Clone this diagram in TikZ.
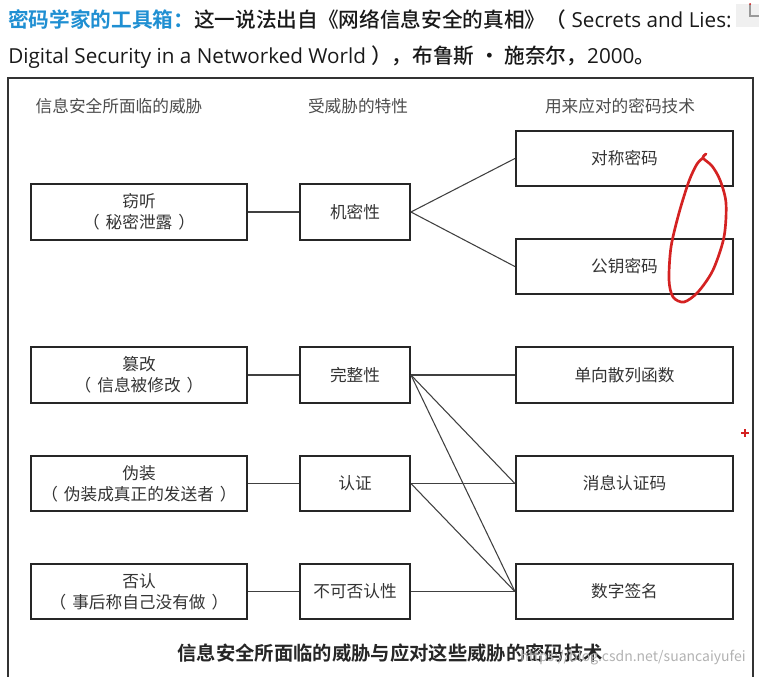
\documentclass[tikz,border=0pt]{standalone}
\usepackage{fontspec}
\newfontfamily\cjk{Noto Sans CJK SC}[BoldFont={Noto Sans CJK SC Bold}]
\newfontfamily\cjkmed{Noto Sans CJK SC Medium}
\newfontfamily\latin{Open Sans}
\usepackage{tikz}
\definecolor{hdrblue}{HTML}{1F8FD2}
\definecolor{inkred}{HTML}{D42222}
\newcommand{\pgap}{\hspace{4.5pt}}

\begin{document}
\begin{tikzpicture}[x=0.75pt,y=-0.75pt,inner sep=0pt,
    box/.style={draw=black!85,line width=1.4pt,minimum height=41.5pt,align=center,
        text=black!80,font=\cjk\fontsize{12.5}{16}\selectfont},
    threat/.style={box,minimum width=162pt},
    prop/.style={box,minimum width=82.5pt},
    tech/.style={box,minimum width=163pt},
    colhead/.style={text=black!70,font=\cjk\fontsize{12.5}{15}\selectfont},
    link/.style={draw=black!75,line width=0.8pt}]
\useasboundingbox (0,0) rectangle (759,676);
% header text
\draw (8, 20) node[anchor=west,text=black!90,font=\cjkmed\fontsize{15.5}{18}\selectfont](title1) {{\cjk\bfseries\color{hdrblue}密码学家的工具箱：}这一说法出自《网络信息安全的真相》（{\latin\ Secrets and Lies:}};
\draw (8, 57) node[anchor=west,text=black!90,font=\cjkmed\fontsize{15.5}{18}\selectfont](title2) {{\latin Digital Security in a Networked World }），布鲁斯 · 施奈尔，{\latin 2000}。};
\fill[black!6] (736, 4) rectangle (759, 27);
\draw[black!40,line width=0.8pt] (750, 4) -- (750, 16) -- (759, 16);
\fill[inkred] (750, 4) circle (1);
% frame
\draw[black!80,line width=1.5pt] (8, 700) -- (8, 78) -- (753, 78) -- (753, 700);
% column heads
\draw (119, 106) node[colhead](headthreat) {信息安全所面临的威胁};
\draw (358, 106) node[colhead](headprop) {受威胁的特性};
\draw (620, 106) node[colhead](headtech) {用来应对的密码技术};
% threats
\draw (139, 212) node[threat](eavesdrop) {窃听\\（\pgap 秘密泄露\pgap）};
\draw (139, 375) node[threat](tamper) {篡改\\（\pgap 信息被修改\pgap）};
\draw (139, 483.5) node[threat](spoof) {伪装\\（\pgap 伪装成真正的发送者\pgap）};
\draw (139, 591.5) node[threat](deny) {否认\\（\pgap 事后称自己没有做\pgap）};
% properties
\draw (355, 212) node[prop](secrecy) {机密性};
\draw (355, 375) node[prop](integrity) {完整性};
\draw (355, 483.5) node[prop](authn) {认证};
\draw (355, 591.5) node[prop](nonrep) {不可否认性};
% techniques
\draw (624.5, 158.5) node[tech](symkey) {对称密码};
\draw (624.5, 266.5) node[tech](pubkey) {公钥密码};
\draw (624.5, 375) node[tech](hashfn) {单向散列函数};
\draw (624.5, 483.5) node[tech](mac) {消息认证码};
\draw (624.5, 591.5) node[tech](signature) {数字签名};
% connectors
\draw[link] (eavesdrop) -- (secrecy);
\draw[link] (secrecy.east) -- (symkey.west);
\draw[link] (secrecy.east) -- (pubkey.west);
\draw[link] (tamper) -- (integrity);
\draw[link] (integrity) -- (hashfn);
\draw[link] (integrity.east) -- (mac.west);
\draw[link] (integrity.east) -- (signature.west);
\draw[link] (spoof) -- (authn);
\draw[link] (authn) -- (mac);
\draw[link] (authn.east) -- (signature.west);
\draw[link] (deny) -- (nonrep);
\draw[link] (nonrep) -- (signature);
% caption
\draw (390, 653) node[font=\cjk\bfseries\fontsize{14.5}{17}\selectfont,text=black!85](caption) {信息安全所面临的威胁与应对这些威胁的密码技术};
\draw (633, 658) node[text=black!30,font=\cjk\fontsize{10.5}{12}\selectfont](mark) {https://blog.csdn.net/suancaiyufei};
% hand-drawn red marks
\draw[inkred,line width=2pt,line cap=round,line join=round] plot[smooth] coordinates {(706,154) (703,158) (712,166) (720,180) (726,203) (724,237) (713,270) (698,292) (684,302) (673,297) (669,280) (671,247) (679,213) (689,181) (697,164) (703,158)};
\draw[inkred,line width=1.5pt] (741, 433) -- (749, 433) (745, 429) -- (745, 437);
\end{tikzpicture}
\end{document}
